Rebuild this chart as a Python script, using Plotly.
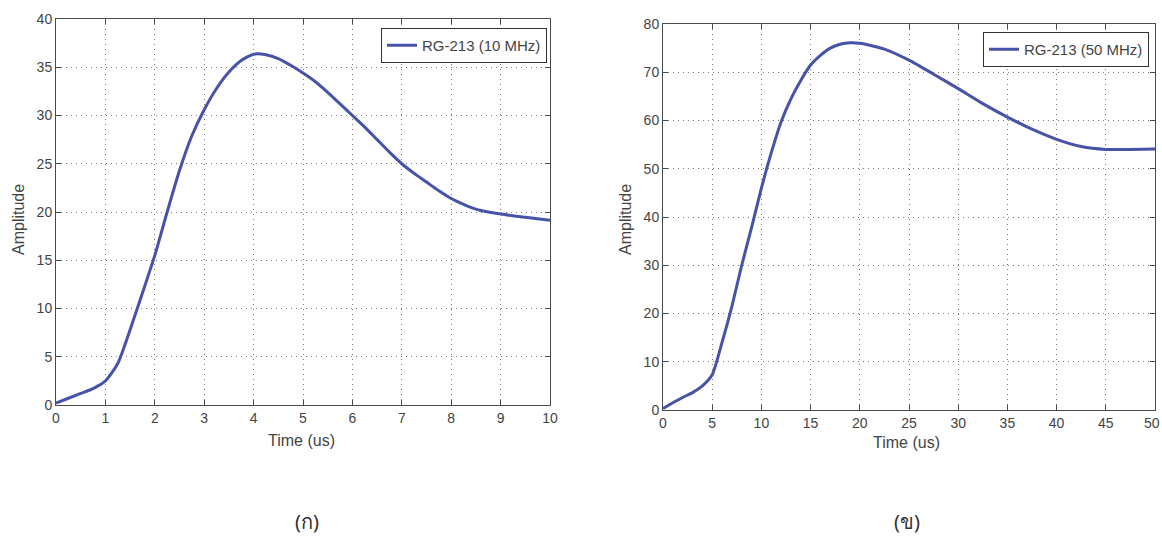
import plotly.graph_objects as go

# Left panel (10 MHz)
time_10 = [0, 0.25, 0.5, 0.75, 1, 1.25, 1.5, 1.75, 2, 2.25, 2.5, 2.75, 3, 3.25, 3.5, 3.75,
           4, 4.25, 4.5, 4.75, 5, 5.25, 5.5, 5.75, 6, 6.25, 6.5, 6.75, 7, 7.25, 7.5, 7.75,
           8, 8.25, 8.5, 8.75, 9, 9.25, 9.5, 9.75, 10]
amp_10 = [0.2, 0.7, 1.2, 1.7, 2.5, 4.3, 7.8, 11.6, 15.5, 20.0, 24.3, 27.9, 30.6, 32.8, 34.5,
          35.7, 36.35, 36.3, 35.9, 35.2, 34.4, 33.5, 32.4, 31.2, 30.0, 28.8, 27.5, 26.2, 25.0,
          24.0, 23.1, 22.2, 21.4, 20.8, 20.3, 20.0, 19.8, 19.6, 19.45, 19.3, 19.15]

# Right panel (50 MHz)
time_50 = [0, 1, 2, 3, 4, 5, 6, 7, 8, 9, 10, 11, 12, 13, 14, 15, 16, 17, 18, 19, 20,
           22.5, 25, 27.5, 30, 32.5, 35, 37.5, 40, 42.5, 45, 47.5, 50]
amp_50 = [0.3, 1.5, 2.6, 3.6, 5.0, 7.3, 14, 21.5, 30, 37.8, 46, 53.3, 59.7, 64.5, 68.3, 71.5,
          73.5, 75, 75.8, 76.1, 76, 74.8, 72.5, 69.6, 66.6, 63.5, 60.7, 58.2, 56.1, 54.6,
          54, 54, 54.1]

names = ["RG-213 (10 MHz)", "RG-213 (50 MHz)"]
captions = ["(ก)", "(ข)"]
x_ticks_left = list(range(0, 11, 1))
y_ticks_left = list(range(0, 41, 5))
x_ticks_right = list(range(0, 51, 5))
y_ticks_right = list(range(0, 81, 10))

W, H = 1162, 537
LINE = "#4653a8"
AX = "#4a4a4a"
FONT = "Liberation Sans, Arial, sans-serif"
TICKFONT = dict(family=FONT, size=14, color="#444")

fig = go.Figure()
fig.add_trace(go.Scatter(x=time_10, y=amp_10, mode="lines", name=names[0],
                         line=dict(color=LINE, width=3, shape="spline", smoothing=0.6),
                         xaxis="x", yaxis="y", legend="legend"))
fig.add_trace(go.Scatter(x=time_50, y=amp_50, mode="lines", name=names[1],
                         line=dict(color=LINE, width=3, shape="spline", smoothing=0.6),
                         xaxis="x2", yaxis="y2", legend="legend2"))

def ax(dom, rng, ticks, anchor, ticktext=None):
    d = dict(domain=dom, range=rng, tickvals=ticks, anchor=anchor, automargin=False,
             showline=True, linecolor=AX, linewidth=1, mirror="ticks",
             ticks="inside", ticklen=5, tickcolor=AX,
             showgrid=True, gridcolor="#777", griddash="1px,4px", gridwidth=1,
             zeroline=False, tickfont=TICKFONT)
    if ticktext is not None:
        d["ticktext"] = ticktext
    return d

# last label of right x axis sits at the page edge; drawn separately below
right_x_text = [str(t) for t in x_ticks_right[:-1]] + [""]

fig.update_layout(
    width=W, height=H, margin=dict(l=0, r=0, t=0, b=0, autoexpand=False),
    paper_bgcolor="white", plot_bgcolor="white",
    xaxis=ax([56 / W, 550 / W], [0, 10], x_ticks_left, "y"),
    yaxis=ax([1 - 405 / H, 1 - 19 / H], [0, 40], y_ticks_left, "x"),
    xaxis2=ax([663 / W, 1155 / W], [0, 50], x_ticks_right, "y2", right_x_text),
    yaxis2=ax([1 - 410 / H, 1 - 24 / H], [0, 80], y_ticks_right, "x2"),
    legend=dict(x=547 / W, y=1 - 28 / H, xanchor="right", yanchor="top",
                bordercolor="#333", borderwidth=1, bgcolor="white",
                font=dict(family=FONT, size=15, color="#444")),
    legend2=dict(x=1149 / W, y=1 - 32 / H, xanchor="right", yanchor="top",
                 bordercolor="#333", borderwidth=1, bgcolor="white",
                 font=dict(family=FONT, size=15, color="#444")),
    showlegend=True,
)

fig.add_annotation(text=str(x_ticks_right[-1]), xref="paper", yref="paper",
                   x=1.0, y=1 - 410 / H, xanchor="right", yanchor="top", yshift=-3,
                   showarrow=False, font=TICKFONT)

annots = [
    dict(text="Amplitude", x=18 / W, y=1 - 220 / H, textangle=-90),
    dict(text="Time (us)", x=301 / W, y=1 - 440 / H),
    dict(text="Amplitude", x=625 / W, y=1 - 220 / H, textangle=-90),
    dict(text="Time (us)", x=906 / W, y=1 - 442 / H),
]
for a in annots:
    fig.add_annotation(xref="paper", yref="paper", showarrow=False,
                       xanchor="center", yanchor="middle",
                       font=dict(family=FONT, size=16, color="#444"), **a)

for cap, cx in zip(captions, [307, 907]):
    fig.add_annotation(text=cap, xref="paper", yref="paper", x=cx / W, y=1 - 521 / H,
                       showarrow=False, xanchor="center", yanchor="middle",
                       font=dict(family="Noto Sans, DejaVu Sans, sans-serif", size=20, color="#333"))

fig.write_html("out.html", config={"displayModeBar": False},
               post_script="document.body.style.margin='0';document.body.style.overflow='hidden';")
